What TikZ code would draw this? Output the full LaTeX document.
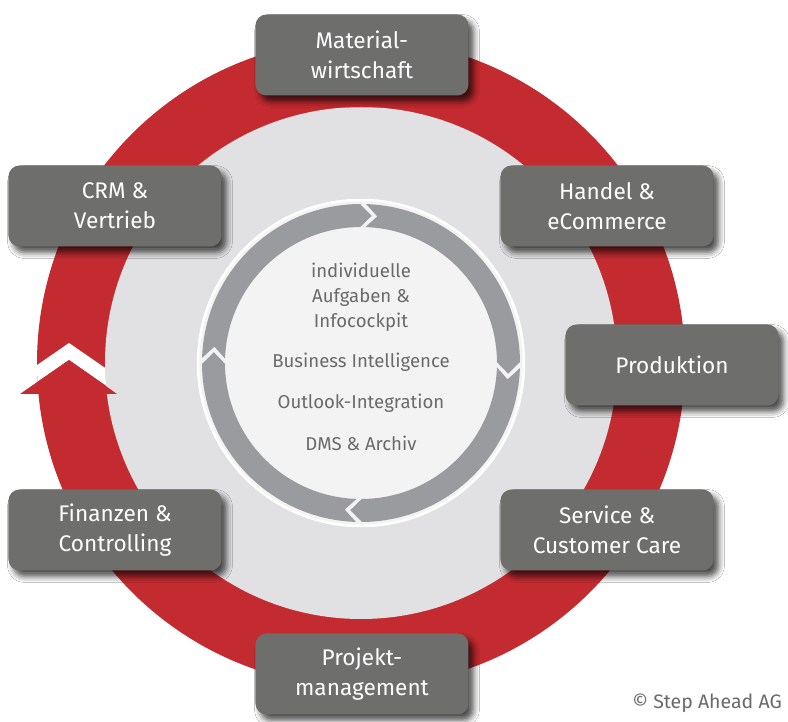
\documentclass[tikz,border=0pt]{standalone}
\usepackage{fontspec}
\setmainfont{Fira Sans}
\usetikzlibrary{shadows.blur}
\definecolor{ringred}{HTML}{C42B30}
\definecolor{diskgray}{HTML}{E1E1E3}
\definecolor{boxgray}{HTML}{6E6E6C}
\definecolor{arrowgray}{HTML}{9A9B9E}
\definecolor{innertext}{HTML}{6A6A6A}
\definecolor{innerdisk}{HTML}{F3F3F3}
\tikzset{
  modbox/.style={rounded corners=11pt, fill=boxgray, minimum width=213pt, minimum height=81pt,
    text=white, align=center, inner sep=0pt, font=\fontsize{22.6}{30}\selectfont,
    blur shadow={shadow xshift=5pt, shadow yshift=-6pt, shadow blur radius=6pt, shadow opacity=70}},
  innerlbl/.style={text=innertext, align=center, font=\fontsize{18.6}{25}\selectfont}
}
\def\chevd{4.5}
\def\gapw{2.2}
\begin{document}
\begin{tikzpicture}[x=1pt,y=1pt]
\useasboundingbox (-361,-359) rectangle (427,363);
\fill[white] (-361,-359) rectangle (427,363);
% red ring
\fill[ringred] (0,0) circle[radius=324];
\begin{scope}
  \clip (0,0) circle[radius=324];
  \fill[white] (-292,20) -- (-352,-21.4) -- (-352,-38.4) -- (-292,3) -- (-232,-38.4) -- (-232,-21.4) -- cycle;
\end{scope}
\fill[diskgray] (0,0) circle[radius=256];
\fill[ringred] (-292,3) -- (-341,-31) -- (-244,-31) -- cycle;
% inner disk
\fill[innerdisk] (0,0) circle[radius=164];
\draw[white, line width=2.5pt] (0,0) circle[radius=163];
% inner cycle arrows
\foreach \c in {87,-3,-93,177} {
  \pgfmathsetmacro\As{\c+\chevd/2-\gapw/2}
  \pgfmathsetmacro\Bt{\c-90-\chevd/2+\gapw/2}
  \pgfmathsetmacro\Bd{\Bt+\chevd}
  \pgfmathsetmacro\Ad{\As-\chevd}
  \fill[arrowgray] (\As:159) arc[start angle=\As, end angle=\Bd, radius=159]
    -- (\Bt:147.5) -- (\Bd:136) arc[start angle=\Bd, end angle=\As, radius=136]
    -- (\Ad:147.5) -- cycle;
}
% inner labels
\node[innerlbl] (t1) at (0,66) {individuelle\\Aufgaben \&\\Infocockpit};
\node[innerlbl] (t2) at (0,1) {Business Intelligence};
\node[innerlbl] (t3) at (0,-40) {Outlook-Integration};
\node[innerlbl] (t4) at (0,-80) {DMS \& Archiv};
% module boxes
\node[modbox] (mat) at (1,308) {Material-\\wirtschaft};
\node[modbox] (crm) at (-246,157) {CRM \&\\Vertrieb};
\node[modbox] (han) at (246,157) {Handel \&\\eCommerce};
\node[modbox] (pro) at (311,-2) {Produktion};
\node[modbox] (fin) at (-246,-167) {Finanzen \&\\Controlling};
\node[modbox] (ser) at (246,-167) {Service \&\\Customer Care};
\node[modbox] (prj) at (1,-311) {Projekt-\\management};
% copyright
\node[anchor=east, text=innertext, font=\fontsize{19.5}{22}\selectfont, inner sep=0pt] (copy) at (421,-340) {© Step Ahead AG};
\end{tikzpicture}
\end{document}
